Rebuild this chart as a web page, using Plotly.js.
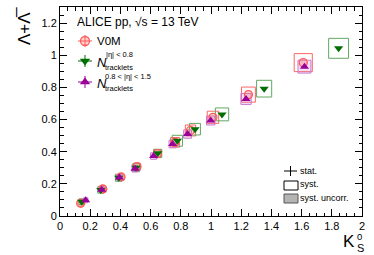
<!DOCTYPE html>
<html>
<head>
<meta charset="utf-8">
<script src="https://cdn.plot.ly/plotly-3.0.1.min.js"></script>
<style>html,body{margin:0;padding:0;background:#fff;}#chart{width:374px;height:255px;}</style>
</head>
<body>
<div id="chart"></div>
<script>
// ---- data ----
const v0mX = [0.137, 0.283, 0.404, 0.510, 0.645, 0.762, 0.864, 1.013, 1.248, 1.611];
const v0mY = [0.079, 0.168, 0.243, 0.307, 0.388, 0.458, 0.532, 0.614, 0.755, 0.954];
const v0mSx = [0.018, 0.020, 0.020, 0.022, 0.025, 0.030, 0.034, 0.038, 0.046, 0.060];
const v0mSy = [0.018, 0.020, 0.020, 0.022, 0.025, 0.030, 0.034, 0.038, 0.047, 0.056];

const trkX = [0.144, 0.270, 0.389, 0.503, 0.648, 0.777, 0.894, 1.073, 1.352, 1.845];
const trkY = [0.089, 0.162, 0.238, 0.300, 0.390, 0.468, 0.540, 0.632, 0.792, 1.043];
const trkSx = [0.018, 0.020, 0.022, 0.024, 0.026, 0.034, 0.036, 0.044, 0.050, 0.066];
const trkSy = [0.018, 0.020, 0.022, 0.024, 0.025, 0.034, 0.036, 0.040, 0.052, 0.062];

const fwdX = [0.170, 0.276, 0.393, 0.497, 0.620, 0.746, 0.845, 0.998, 1.232, 1.619];
const fwdY = [0.098, 0.163, 0.240, 0.294, 0.373, 0.448, 0.510, 0.594, 0.728, 0.929];
const fwdSx = [0.015, 0.017, 0.018, 0.020, 0.020, 0.024, 0.026, 0.028, 0.034, 0.043];
const fwdSy = [0.015, 0.017, 0.018, 0.020, 0.020, 0.024, 0.026, 0.028, 0.034, 0.040];

const xTitle = 'K';
const yTitle = 'Λ+Λ\u0305';
const systemLabel = 'ALICE pp, √s = 13 TeV';
const seriesNames = ['V0M', 'N', 'N'];

// ---- styles ----
const RED = '#ff5a5a', GREEN = '#006e00', PURPLE = '#990099';
const RED_BOX = '#ff6666', GREEN_BOX = '#62a862', PURPLE_BOX = '#c97ad2';
const FONT = 'Liberation Sans, Arial, Helvetica, sans-serif';

// pixel -> paper helpers (plot area: x 60..362, y 7..216)
const L = 60, R = 362, T = 7, B = 216;
const PX = p => (p - L) / (R - L);
const PY = p => (B - p) / (B - T);

function boxes(xs, ys, ex, ey, color, fill) {
  return xs.map((x, i) => ({
    type: 'rect', xref: 'x', yref: 'y', layer: 'below',
    x0: x - ex[i], x1: x + ex[i], y0: ys[i] - ey[i], y1: ys[i] + ey[i],
    line: {color: color, width: 1}, fillcolor: fill
  }));
}

const shapes = [].concat(
  boxes(v0mX, v0mY, v0mSx, v0mSy, RED_BOX, 'rgba(0,0,0,0)'),
  boxes(trkX, trkY, trkSx, trkSy, GREEN_BOX, 'rgba(0,0,0,0)'),
  boxes(fwdX, fwdY, fwdSx, fwdSy, PURPLE_BOX, 'rgba(205,130,215,0.25)')
);

// legend crosses (top-left legend)
const legY = [41, 61, 82];
const legCol = [RED, GREEN, PURPLE];
legY.forEach((y, i) => {
  shapes.push({type: 'line', xref: 'paper', yref: 'paper', x0: PX(78), x1: PX(92), y0: PY(y), y1: PY(y), line: {color: legCol[i], width: 1}});
  shapes.push({type: 'line', xref: 'paper', yref: 'paper', x0: PX(85), x1: PX(85), y0: PY(y - 6), y1: PY(y + 6), line: {color: legCol[i], width: 1}});
});
// bottom-right legend
shapes.push({type: 'line', xref: 'paper', yref: 'paper', x0: PX(284), x1: PX(297), y0: PY(171), y1: PY(171), line: {color: '#000', width: 1}});
shapes.push({type: 'line', xref: 'paper', yref: 'paper', x0: PX(290.5), x1: PX(290.5), y0: PY(166), y1: PY(176), line: {color: '#000', width: 1}});
shapes.push({type: 'rect', xref: 'paper', yref: 'paper', x0: PX(284), x1: PX(298), y0: PY(190), y1: PY(181), line: {color: '#000', width: 1}, fillcolor: '#fff'});
shapes.push({type: 'rect', xref: 'paper', yref: 'paper', x0: PX(284), x1: PX(298), y0: PY(203), y1: PY(194), line: {color: '#555', width: 1}, fillcolor: '#b4b4b4'});

const traces = [
  {x: v0mX, y: v0mY, type: 'scatter', mode: 'markers', name: seriesNames[0],
   marker: {symbol: 'circle', size: 8, color: 'rgba(255,100,100,0.3)', line: {color: RED, width: 1.3}}},
  {x: trkX, y: trkY, type: 'scatter', mode: 'markers', name: seriesNames[1],
   marker: {symbol: 'triangle-down', size: 8, color: GREEN, line: {width: 0}}},
  {x: fwdX, y: fwdY, type: 'scatter', mode: 'markers', name: seriesNames[2],
   marker: {symbol: 'triangle-up', size: 8, color: PURPLE, line: {width: 0}}},
  // legend symbols, on an overlay axis in paper-like units
  {x: [PX(85), PX(85), PX(85)], y: [PY(41), PY(61), PY(82)], xaxis: 'x2', yaxis: 'y2',
   type: 'scatter', mode: 'markers', hoverinfo: 'skip',
   marker: {symbol: ['circle', 'triangle-down', 'triangle-up'], size: 9,
            color: ['rgba(255,100,100,0.3)', GREEN, PURPLE],
            line: {color: [RED, GREEN, PURPLE], width: [1.3, 0, 0]}}}
];

const ann = (x, y, text, size, opts) => Object.assign({
  xref: 'paper', yref: 'paper', x: PX(x), y: PY(y), text: text, showarrow: false,
  xanchor: 'left', yanchor: 'middle', borderpad: 0,
  font: {family: FONT, size: size, color: '#000'}
}, opts || {});

const annotations = [
  ann(76, 22, systemLabel, 12),
  ann(96, 41, seriesNames[0], 11.5),
  ann(96, 62, '<i>' + seriesNames[1] + '</i>', 13),
  ann(105, 55, '|η| &lt; 0.8', 7.5),
  ann(104, 67.5, 'tracklets', 7.5),
  ann(96, 83, '<i>' + seriesNames[2] + '</i>', 13),
  ann(104, 76.5, '0.8 &lt; |η| &lt; 1.5', 7.5),
  ann(104, 88, 'tracklets', 7.5),
  ann(299, 171, 'stat.', 9),
  ann(299, 184, 'syst.', 9),
  ann(299, 198, 'syst. uncorr.', 9),
  // axis titles
  ann(356, 241, xTitle, 17, {xanchor: 'right'}),
  ann(355.5, 236.5, '0', 9.5),
  ann(355.5, 248, 'S', 11),
  ann(24, 26, yTitle, 17, {xanchor: 'center', textangle: -90})
];

const axisCommon = {
  showgrid: false, zeroline: false, showline: true, linecolor: '#000', linewidth: 1,
  mirror: 'allticks', ticks: 'inside', ticklen: 7, tickwidth: 1, tickcolor: '#000',
  tickfont: {family: FONT, size: 11, color: '#000'}
};

const layout = {
  width: 374, height: 255,
  margin: {l: L, r: 374 - R, t: T, b: 255 - B, pad: 0},
  paper_bgcolor: '#fff', plot_bgcolor: '#fff',
  showlegend: false,
  xaxis: Object.assign({}, axisCommon, {range: [0, 2], dtick: 0.2, tick0: 0,
    minor: {dtick: 0.05, ticks: 'inside', ticklen: 3.5, tickcolor: '#000', tickwidth: 1}}),
  yaxis: Object.assign({}, axisCommon, {range: [0, 1.3], dtick: 0.2, tick0: 0,
    minor: {dtick: 0.05, ticks: 'inside', ticklen: 3.5, tickcolor: '#000', tickwidth: 1}}),
  xaxis2: {overlaying: 'x', range: [0, 1], visible: false, anchor: 'y2'},
  yaxis2: {overlaying: 'y', range: [0, 1], visible: false, anchor: 'x2'},
  shapes: shapes,
  annotations: annotations
};

Plotly.newPlot('chart', traces, layout, {staticPlot: true, displayModeBar: false});
</script>
</body>
</html>
